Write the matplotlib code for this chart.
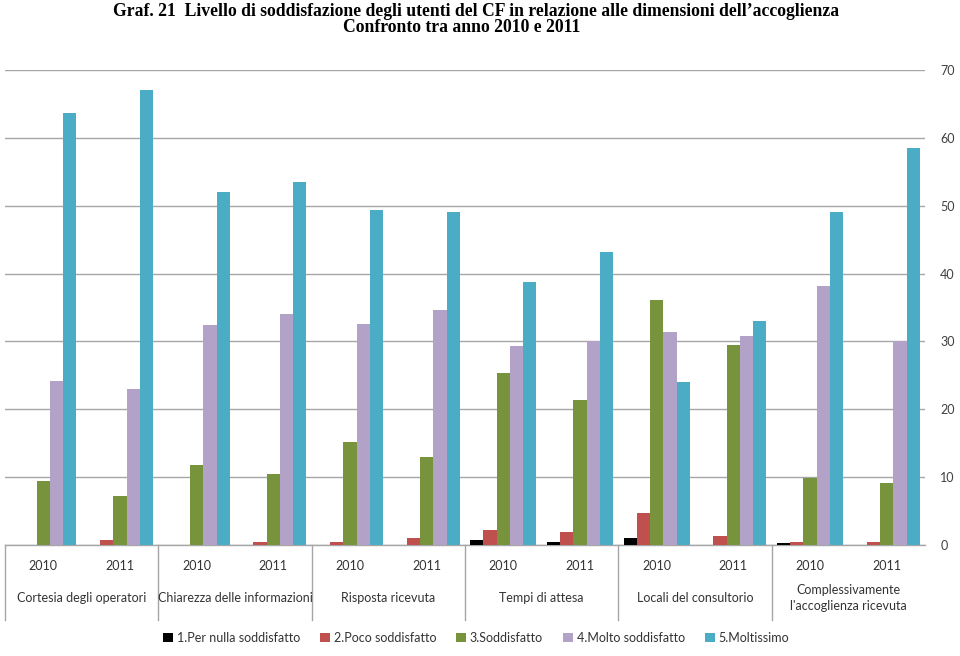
import numpy as np
import matplotlib.pyplot as plt

# data (percentages)
categories = ["Cortesia degli operatori", "Chiarezza delle informazioni", "Risposta ricevuta",
              "Tempi di attesa", "Locali del consultorio", "Complessivamente\nl'accoglienza ricevuta"]
years = ["2010", "2011"]

series_names = ["1.Per nulla soddisfatto", "2.Poco soddisfatto", "3.Soddisfatto",
                "4.Molto soddisfatto", "5.Moltissimo"]
per_nulla = [0.0, 0.0, 0.0, 0.0, 0.0, 0.0, 0.7, 0.4, 1.1, 0.0, 0.3, 0.0]
poco = [0.0, 0.7, 0.0, 0.4, 0.5, 1.0, 2.2, 1.9, 4.7, 1.3, 0.5, 0.4]
soddisfatto = [9.4, 7.2, 11.8, 10.5, 15.2, 13.0, 25.4, 21.4, 36.1, 29.5, 9.9, 9.1]
molto = [24.2, 23.0, 32.4, 34.0, 32.6, 34.6, 29.3, 30.1, 31.4, 30.8, 38.2, 30.1]
moltissimo = [63.7, 67.1, 52.0, 53.5, 49.4, 49.1, 38.8, 43.2, 24.0, 33.0, 49.1, 58.5]

colors = ["#000000", "#C0504D", "#77933C", "#B3A2C7", "#4BACC6"]

plt.rcParams['font.family'] = ['Lato', 'DejaVu Sans']

fig = plt.figure(figsize=(9.6, 6.56), dpi=100)
# axes placed in pixel terms of the 960x656 image
ax = fig.add_axes([5 / 960, 1 - 545 / 656, 920 / 960, 475 / 656])

all_series = [per_nulla, poco, soddisfatto, molto, moltissimo]
x = np.arange(len(per_nulla))
w = 0.173
for k, (vals, name, col) in enumerate(zip(all_series, series_names, colors)):
    ax.bar(x + (k - 2) * w, vals, width=w, color=col, label=name, zorder=3)

ax.set_xlim(-0.5, len(x) - 0.5)
ax.set_ylim(0, 70)
ax.set_yticks(range(0, 71, 10))
ax.yaxis.tick_right()
ax.tick_params(axis='y', length=0, pad=11, labelsize=9, labelcolor="#404040")
ax.grid(axis='y', color="#A6A6A6", linewidth=1.0, zorder=0)
ax.set_xticks([])
for s in ["top", "left", "right"]:
    ax.spines[s].set_visible(False)
ax.spines["bottom"].set_color("#A6A6A6")
ax.spines["bottom"].set_linewidth(1.0)

def frac(px):
    # pixel row in the image -> axes fraction (below the axis is negative)
    return -(px - 545) / 475

trans = ax.get_xaxis_transform()
for i in x:
    ax.text(i, frac(566), years[i % 2], transform=trans, ha="center", va="center",
            fontsize=9, color="#333333")
for j, cat in enumerate(categories):
    ax.text(2 * j + 0.5, frac(598), cat, transform=trans, ha="center", va="center",
            fontsize=9, color="#333333", linespacing=1.5)
for b in np.arange(-0.5, len(x) - 1, 2):
    ax.plot([b, b], [0, frac(620)], transform=trans, color="#A6A6A6", linewidth=1.0,
            clip_on=False)

fig.text(476 / 960, 1 - 12 / 656,
         "Graf. 21  Livello di soddisfazione degli utenti del CF in relazione alle dimensioni dell\u2019accoglienza",
         ha="center", va="center", fontsize=12.7, fontweight="bold", family="Liberation Serif")
fig.text(462 / 960, 1 - 28 / 656, "Confronto tra anno 2010 e 2011",
         ha="center", va="center", fontsize=12.7, fontweight="bold", family="Liberation Serif")

fig.legend(loc="center", bbox_to_anchor=(476 / 960, 1 - 638 / 656), ncol=5, frameon=False,
           fontsize=9, handlelength=0.8, handleheight=0.8, handletextpad=0.3,
           columnspacing=1.6, labelcolor="#333333")

fig.savefig("out.png", dpi=100)
